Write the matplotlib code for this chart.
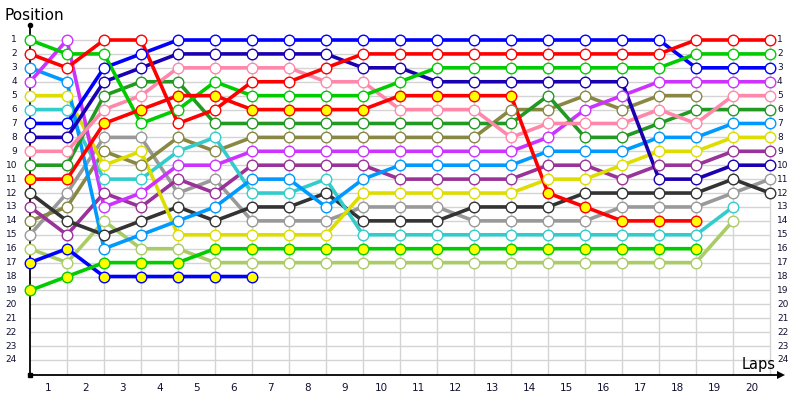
import numpy as np
import matplotlib
matplotlib.use("Agg")
import matplotlib.pyplot as plt

nan = np.nan
laps = list(range(0, 21))
lap_labels = [str(i) for i in range(1, 21)]
position_labels = [str(i) for i in range(1, 25)]

# positions per lap (lap 0 .. lap 20)
green = [1, 2, 2, 7, 6, 4, 5, 5, 5, 5, 4, 3, 3, 3, 3, 3, 3, 3, 2, 2, 2]
red = [2, 3, 1, 1, 7, 6, 4, 4, 3, 2, 2, 2, 2, 2, 2, 2, 2, 2, 1, 1, 1]
light_blue = [3, 4, 16, 15, 14, 13, 11, 11, 13, 11, 10, 10, 10, 10, 9, 9, 9, 8, 8, 7, 7]
violet = [4, 1, 13, 12, 10, 10, 9, 9, 9, 9, 9, 9, 9, 9, 8, 6, 5, 4, 4, 4, 4]
yellow = [5, 5, 10, 9, 15, 15, 15, 15, 15, 12, 12, 12, 12, 12, 11, 11, 10, 9, 9, 8, 8]
cyan = [6, 6, 11, 11, 9, 8, 12, 12, 11, 15, 15, 15, 15, 15, 15, 15, 15, 15, 15, 13, nan]
blue = [7, 7, 3, 2, 1, 1, 1, 1, 1, 1, 1, 1, 1, 1, 1, 1, 1, 1, 3, 3, 3]
dark_blue = [8, 8, 4, 3, 2, 2, 2, 2, 2, 3, 3, 4, 4, 4, 4, 4, 4, 11, 11, 10, 10]
pink = [9, 9, 6, 5, 3, 3, 3, 3, 4, 4, 6, 6, 6, 8, 7, 7, 7, 6, 7, 5, 5]
dark_green = [10, 10, 5, 4, 4, 7, 7, 7, 7, 7, 7, 7, 7, 7, 5, 8, 8, 7, 6, 6, 6]
red_pit = [11, 11, 7, 6, 5, 5, 6, 6, 6, 6, 5, 5, 5, 5, 12, 13, 14, 14, 14, nan, nan]
black = [12, 14, 15, 14, 13, 14, 13, 13, 12, 14, 14, 14, 13, 13, 13, 12, 12, 12, 12, 11, 12]
purple = [13, 15, 12, 13, 11, 12, 10, 10, 10, 10, 11, 11, 11, 11, 10, 10, 11, 10, 10, 9, 9]
olive = [14, 13, 9, 10, 8, 9, 8, 8, 8, 8, 8, 8, 8, 6, 6, 5, 6, 5, 5, nan, nan]
gray = [15, 12, 8, 8, 12, 11, 14, 14, 14, 13, 13, 13, 14, 14, 14, 14, 13, 13, 13, 12, 11]
light_green = [16, 17, 14, 16, 16, 17, 17, 17, 17, 17, 17, 17, 17, 17, 17, 17, 17, 17, 17, 14, nan]
blue_pit = [17, 16, 18, 18, 18, 18, 18, nan, nan, nan, nan, nan, nan, nan, nan, nan, nan, nan, nan, nan, nan]
green_pit = [19, 18, 17, 17, 17, 16, 16, 16, 16, 16, 16, 16, 16, 16, 16, 16, 16, 16, 16, nan, nan]

series = [
    (light_green, '#aacc66', 'white'),
    (gray, '#999999', 'white'),
    (olive, '#888844', 'white'),
    (purple, '#993399', 'white'),
    (black, '#333333', 'white'),
    (cyan, '#33cccc', 'white'),
    (yellow, '#dddd00', 'white'),
    (light_blue, '#0099ff', 'white'),
    (violet, '#cc33ff', 'white'),
    (dark_green, '#229922', 'white'),
    (pink, '#ff88aa', 'white'),
    (dark_blue, '#1a00b0', 'white'),
    (blue, '#0000ff', 'white'),
    (green, '#00cc00', 'white'),
    (red, '#ff0000', 'white'),
    (red_pit, '#ff0000', '#ffff00'),
    (blue_pit, '#0000ff', '#ffff00'),
    (green_pit, '#00cc00', '#ffff00'),
]

fig = plt.figure(figsize=(8, 4), dpi=100)
# pixel geometry: lap 0 at x=30, 37 px per lap; position 1 at y=40, 13.913 px per position
px_lap = 37.0
px_pos = 320.0 / 23
ax = fig.add_axes([0, 0, 1, 1])
ax.set_xlim(-30 / px_lap, (800 - 30) / px_lap)
ax.set_ylim(1 + (400 - 40) / px_pos, 1 - 40 / px_pos)
ax.axis('off')

pos_axis = 1 + (375 - 40) / px_pos
pos_top = 1 - 15 / px_pos
grid_c = '#d4d4d4'
n_pos = len(position_labels)
ax.hlines(range(1, n_pos + 1), 0, laps[-1], colors=grid_c, lw=1, zorder=1)
ax.vlines(laps[1:], 1, pos_axis, colors=grid_c, lw=1, zorder=1)

# axes lines
ax.plot([0, 0], [pos_top, pos_axis], color='black', lw=1.3, zorder=2)
ax.plot([0, (778 - 30) / px_lap], [pos_axis, pos_axis], color='black', lw=1.3, zorder=2)
ax.plot([0], [pos_top], marker='o', ms=3, color='black', zorder=2)
ax.plot([0], [pos_axis], marker='s', ms=3, color='black', zorder=2)
ax.plot([(781 - 30) / px_lap], [pos_axis], marker='>', ms=6, color='black',
        markeredgewidth=0, zorder=2)

x = np.array(laps, dtype=float)
for vals, col, face in series:
    ax.plot(x, vals, color=col, lw=2.6, solid_capstyle='round', zorder=3)
for vals, col, face in series:
    ax.plot(x, vals, ls='none', marker='o', ms=7.6, mfc=face, mec=col, mew=1.0, zorder=4)

txt_c = '#101030'
for i, lab in enumerate(position_labels):
    p = i + 1
    ax.text((17 - 30) / px_lap, p, lab, ha='right', va='center', fontsize=6.5, color=txt_c)
    ax.text((777 - 30) / px_lap, p, lab, ha='left', va='center', fontsize=6.5, color=txt_c)
for i, lab in enumerate(lap_labels):
    ax.text(i + 0.5, 1 + (388 - 40) / px_pos, lab, ha='center', va='center', fontsize=7.5, color=txt_c)

ax.text((4 - 30) / px_lap, 1 + (16 - 40) / px_pos, 'Position', ha='left', va='center', fontsize=11, color='black')
ax.text((776 - 30) / px_lap, 1 + (369 - 40) / px_pos, 'Laps', ha='right', va='baseline', fontsize=10.5, color='black')

fig.savefig('out.png', dpi=100)
